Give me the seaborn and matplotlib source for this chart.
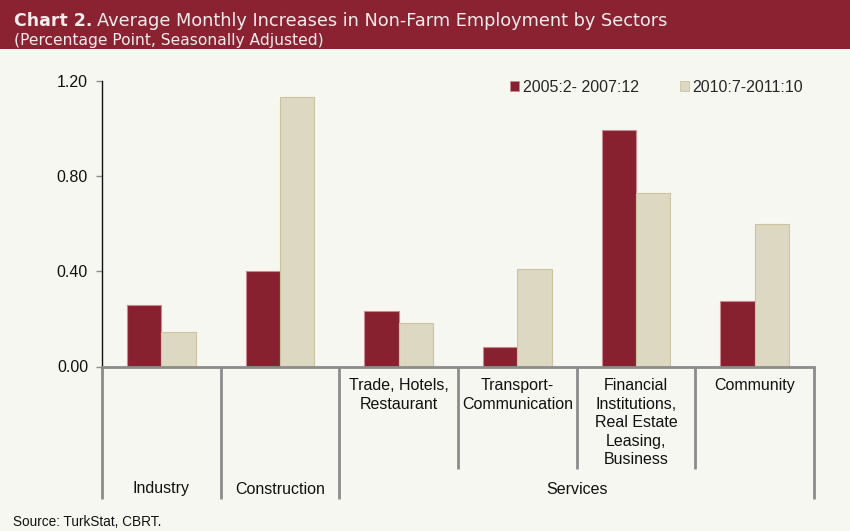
import matplotlib
matplotlib.use("Agg")
import matplotlib.pyplot as plt
import matplotlib.transforms as mtransforms
from matplotlib.patches import Rectangle
import seaborn as sns
import pandas as pd

# Sector categories and the two period series
sectors = ["Industry", "Construction", "Trade", "Transport", "Financial", "Community"]
periods = ["2005:2- 2007:12", "2010:7-2011:10"]
values_2005_2007 = [0.257, 0.402, 0.232, 0.080, 0.995, 0.277]
values_2010_2011 = [0.147, 1.133, 0.182, 0.410, 0.729, 0.600]

# Sub-sector labels shown under each bar pair (top row)
sector_labels = ["", "", "Trade, Hotels,\nRestaurant", "Transport-\nCommunication",
                 "Financial\nInstitutions,\nReal Estate\nLeasing,\nBusiness", "Community"]
# Main group labels (bottom row): (label, first index, last index)
group_labels = [("Industry", 0, 0), ("Construction", 1, 1), ("Services", 2, 5)]

yticks = [0.0, 0.4, 0.8, 1.2]

RED = "#87202F"
BEIGE = "#DDD8C2"
BG = "#F7F7F2"
FS = 11.5

df = pd.DataFrame({
    "sector": sectors * 2,
    "period": [periods[0]] * len(sectors) + [periods[1]] * len(sectors),
    "value": values_2005_2007 + values_2010_2011,
})

sns.set_theme(style="white")
plt.rcParams["font.family"] = ["Liberation Sans", "DejaVu Sans"]

fig = plt.figure(figsize=(8.5, 5.31), dpi=100, facecolor=BG)

# Title band (drawn first so everything else sits on top)
band = Rectangle((0, 1 - 49 / 531), 1, 49 / 531, transform=fig.transFigure,
                 facecolor="#8A2231", edgecolor="none", zorder=-5)
fig.add_artist(band)

ax = fig.add_axes([102 / 850, 1 - 366.5 / 531, (814 - 102) / 850, (366.5 - 81) / 531])
ax.set_facecolor(BG)

sns.barplot(data=df, x="sector", y="value", hue="period", order=sectors,
            hue_order=periods, palette=[RED, BEIGE], width=0.58, ax=ax,
            saturation=1, linewidth=0.8, errorbar=None)

for patch in ax.patches:
    fc = patch.get_facecolor()
    if abs(fc[0] - 0x87 / 255) < 0.02:
        patch.set_edgecolor("#C98A92")
    else:
        patch.set_edgecolor("#CBC3A2")

ax.set_xlim(-0.5, len(sectors) - 0.5)
ax.set_ylim(0, 1.2)
ax.set_yticks(yticks)
ax.set_yticklabels([f"{t:.2f}" for t in yticks], fontsize=FS, color="#111111")
ax.set_xticks([])
ax.set_xlabel("")
ax.set_ylabel("")

for side in ["top", "right"]:
    ax.spines[side].set_visible(False)
ax.spines["left"].set_color("#111111")
ax.spines["left"].set_linewidth(1.0)
ax.spines["bottom"].set_color("#8C8C8C")
ax.spines["bottom"].set_linewidth(2.0)
ax.tick_params(axis="y", which="both", left=True, length=4, width=1,
               color="#8C8C8C", pad=6)

# Category separators and labels beneath the axis
trans = mtransforms.blended_transform_factory(ax.transData, ax.transAxes)
ax_h = 366.5 - 81
short_y = -(469 - 366.5) / ax_h
long_y = -(499 - 366.5) / ax_h
group_edges = {-0.5, 0.5, 1.5, 5.5}
for i in range(len(sectors) + 1):
    xb = i - 0.5
    yb = long_y if xb in group_edges else short_y
    ax.plot([xb, xb], [0, yb], color="#8C8C8C", lw=2.0, transform=trans,
            clip_on=False, solid_capstyle="butt")

for i, lab in enumerate(sector_labels):
    if lab:
        ax.text(i, -(378 - 366.5) / ax_h, lab, transform=trans, ha="center",
                va="top", fontsize=FS, color="#111111", linespacing=1.3)

for lab, a, b in group_labels:
    ax.text((a + b) / 2, -(489 - 366.5) / ax_h, lab, transform=trans,
            ha="center", va="center", fontsize=FS, color="#111111")

leg = ax.legend(ncol=2, frameon=False, loc="upper right",
                bbox_to_anchor=(1.005, 1.055), fontsize=FS, handlelength=0.55,
                handleheight=0.55, handletextpad=0.25, columnspacing=2.55)
for h in leg.legend_handles:
    h.set_linewidth(0.6)

# Title and subtitle
title_font = ["DejaVu Sans"]
TITLE_C = "#F4ECEC"
t1 = fig.text(14 / 850, 1 - 26 / 531, "Chart 2.", fontsize=12.5, fontweight="bold",
              color=TITLE_C, family=title_font, va="baseline")
fig.canvas.draw()
bb = t1.get_window_extent()
fig.text((bb.x1 + 5) / 850, 1 - 26 / 531,
         "Average Monthly Increases in Non-Farm Employment by Sectors",
         fontsize=12.8, color=TITLE_C, family=title_font, va="baseline")
fig.text(14 / 850, 1 - 45 / 531, "(Percentage Point, Seasonally Adjusted)",
         fontsize=11.15, color=TITLE_C, family=title_font, va="baseline")

fig.text(13 / 850, 1 - 526 / 531, "Source: TurkStat, CBRT.", fontsize=9.8,
         color="#111111", va="baseline")

fig.savefig("out.png", dpi=100, facecolor=BG)
